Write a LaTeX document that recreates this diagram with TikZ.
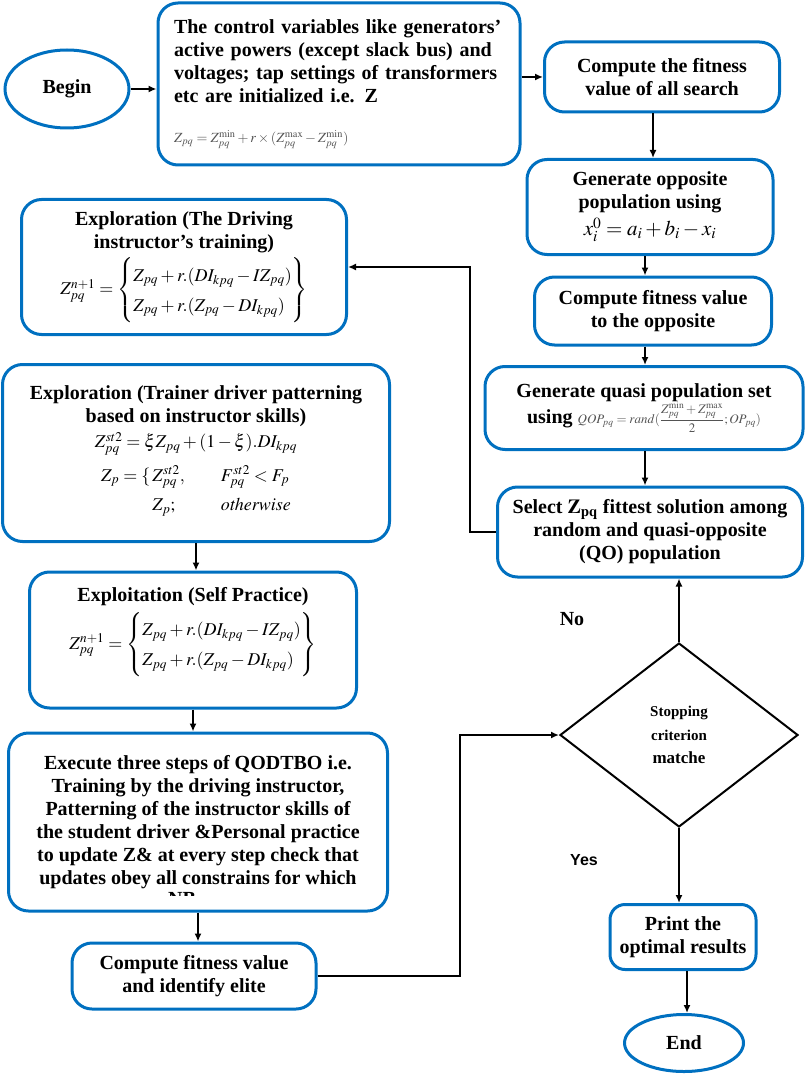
\documentclass[tikz,border=0pt]{standalone}
\usepackage{amsmath}
\usepackage{mathptmx}
\usepackage{fontspec}
\setmainfont{Liberation Serif}
\newfontfamily\labelsans{Liberation Sans}
\usetikzlibrary{shapes.geometric,arrows.meta}

\definecolor{flowblue}{RGB}{0,112,192}

\tikzset{
  boxtext/.style={font=\bfseries\fontsize{20}{23}\selectfont},
  flowbox/.style={boxtext, draw=flowblue, line width=3pt, rounded corners=20pt, align=center, inner sep=0pt},
  termnode/.style={boxtext, draw=flowblue, line width=3pt, ellipse, inner sep=0pt},
  decnode/.style={draw, line width=2pt, diamond, inner sep=0pt, align=center, font=\bfseries\fontsize{15}{23.5}\selectfont},
  arr/.style={-{Latex[length=8pt,width=7pt]}, line width=2pt},
}

\begin{document}
\begin{tikzpicture}[x=1pt, y=-1pt]
    \useasboundingbox (0,0) rectangle (809,1075);
    % right column
    \node[termnode, minimum width=124pt, minimum height=78pt] (begin) at (67,89) {Begin};
    \node[flowbox, minimum width=362pt, minimum height=162pt, text width=330pt, align=left] (init) at (339,84)
        {The control variables like generators’\\active powers (except slack bus) and\\voltages; tap settings of transformers\\etc are initialized i.e. Z\\[17pt]{\mdseries\color{gray!65!black}\fontsize{14}{16}\selectfont$Z_{pq}=Z_{pq}^{\min}+r\times(Z_{pq}^{\max}-Z_{pq}^{\min})$}};
    \node[flowbox, minimum width=235pt, minimum height=70pt] (fit1) at (662,77) {Compute the fitness\\value of all search};
    \node[flowbox, minimum width=246pt, minimum height=95pt] (opp) at (650,207)
        {Generate opposite\\population using\\[4pt]{\mdseries\fontsize{21}{23}\selectfont$x_i^{0}=a_i+b_i-x_i$}};
    \node[flowbox, minimum width=237pt, minimum height=68pt] (fit2) at (653,311) {Compute fitness value\\to the opposite};
    \node[flowbox, minimum width=318pt, minimum height=83pt] (quasi) at (644,408)
        {Generate quasi population set\\using {\mdseries\color{gray!65!black}\fontsize{13}{15}\selectfont$QOP_{pq}=rand(\dfrac{Z_{pq}^{\min}+Z_{pq}^{\max}}{2};OP_{pq})$}};
    \node[flowbox, minimum width=305pt, minimum height=90pt] (select) at (650,532)
        {Select $\mathbf{Z_{pq}}$ fittest solution among\\random and quasi-opposite\\(QO) population};
    \node[decnode, aspect=1.29, minimum width=238pt, minimum height=184pt] (dec) at (679,735)
        {Stopping\\criterion\\{\fontsize{17}{23.5}\selectfont matche}};
    \node[boxtext] (nolbl) at (572,619) {No};
    \node[font=\labelsans\bfseries\fontsize{16}{18}\selectfont] (yeslbl) at (584,860) {Yes};
    \node[flowbox, minimum width=146pt, minimum height=65pt, rounded corners=15pt] (print) at (683,937) {Print the\\optimal results};
    \node[termnode, minimum width=119pt, minimum height=57pt] (end) at (684,1043) {End};
    % left column
    \node[flowbox, minimum width=325pt, minimum height=135pt] (expl1) at (184,267)
        {Exploration (The Driving\\instructor’s training)\\[4pt]
        {\mdseries\fontsize{18}{23}\selectfont\renewcommand{\arraystretch}{1.3}$Z_{pq}^{n+1}=\left\{\begin{array}{@{}l@{}}Z_{pq}+r.(DI_{kpq}-IZ_{pq})\\Z_{pq}+r.(Z_{pq}-DI_{kpq})\end{array}\right\}$}};
    \node[flowbox, minimum width=387pt, minimum height=177pt] (expl2) at (196,453)
        {Exploration (Trainer driver patterning\\based on instructor skills)\\[2pt]
        {\mdseries\fontsize{18}{23}\selectfont$Z_{pq}^{st2}=\xi Z_{pq}+(1-\xi).DI_{kpq}$}\\[4pt]
        {\mdseries\fontsize{18}{23}\selectfont\renewcommand{\arraystretch}{1.3}$\begin{array}{@{}r@{\,}l@{\qquad}l@{}}Z_p=\{&Z_{pq}^{st2},&F_{pq}^{st2}<F_p\\&Z_{p};&\mathit{otherwise}\end{array}$}};
    \node[flowbox, minimum width=327pt, minimum height=136pt] (exploit) at (193,640)
        {Exploitation (Self Practice)\\[6pt]
        {\mdseries\fontsize{18}{23}\selectfont\renewcommand{\arraystretch}{1.3}$Z_{pq}^{n+1}=\left\{\begin{array}{@{}l@{}}Z_{pq}+r.(DI_{kpq}-IZ_{pq})\\Z_{pq}+r.(Z_{pq}-DI_{kpq})\end{array}\right\}$}\\[-8pt]\strut};
    \node[flowbox, minimum width=379pt, minimum height=178pt] (exec) at (198,822)
        {Execute three steps of QODTBO i.e.\\Training by the driving instructor,\\Patterning of the instructor skills of\\the student driver \&Personal practice\\to update Z\& at every step check that\\updates obey all constrains for which};
    \begin{scope}
        \clip (20,885) rectangle (380,895.5);
        \node[boxtext, anchor=base] (nbcut) at (182,905) {NB};
    \end{scope}
    \node[flowbox, minimum width=244pt, minimum height=66pt] (elite) at (194,976) {Compute fitness value\\and identify elite};
    % connectors
    \draw[arr] (begin.east) -- (begin.east -| init.west);
    \draw[arr] (fit1.west -| init.east) -- (fit1.west);
    \draw[arr] ([xshift=-9pt]fit1.south) -- ([xshift=-9pt]fit1.south |- opp.north);
    \draw[arr] ([xshift=-5pt]opp.south) -- ([xshift=-5pt]opp.south |- fit2.north);
    \draw[arr] ([xshift=-8pt]fit2.south) -- ([xshift=-8pt]fit2.south |- quasi.north);
    \draw[arr] ([xshift=1pt]quasi.south) -- ([xshift=1pt]quasi.south |- select.north);
    \draw[arr] (select.west) -- ++(-26,0) |- (expl1.east);
    \draw[arr] (expl2.south) -- (expl2.south |- exploit.north);
    \draw[arr] (exploit.south) -- (exploit.south |- exec.north);
    \draw[arr] (exec.south) -- (exec.south |- elite.north);
    \draw[arr] (elite.east) -- ++(142,0) |- (dec.west);
    \draw[arr] (dec.north) -- (dec.north |- select.south);
    \draw[arr] (dec.south) -- (dec.south |- print.north);
    \draw[arr] ([xshift=4pt]print.south) -- ([xshift=4pt]print.south |- end.north);
\end{tikzpicture}
\end{document}
